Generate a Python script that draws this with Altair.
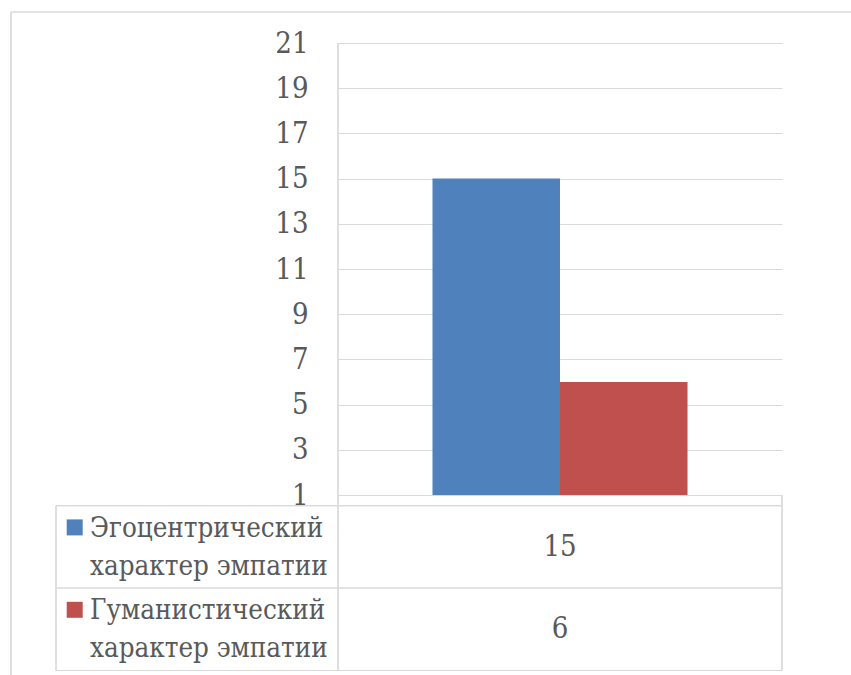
import altair as alt
import pandas as pd

# ---- data ----
series = ["Эгоцентрический характер эмпатии", "Гуманистический характер эмпатии"]
row_labels = ["Эгоцентрический\nхарактер эмпатии", "Гуманистический\nхарактер эмпатии"]
values = [15, 6]
rows = [0, 1]
colors = ["#4f81bd", "#c0504d"]
y_ticks = [1, 3, 5, 7, 9, 11, 13, 15, 17, 19, 21]

df = pd.DataFrame({"series": series, "label": row_labels, "value": values, "row": rows})

W, H = 444, 452
FONT = "DejaVu Serif Condensed, DejaVu Serif"
TXT = "#595959"
GRID = "#d9d9d9"

base = alt.Chart(df)

color = alt.Color("series:N", scale=alt.Scale(domain=series, range=colors), legend=None)

bars = base.mark_bar().encode(
    x=alt.X("series:N", sort=series,
            scale=alt.Scale(domain=series, paddingInner=0, paddingOuter=0.741),
            axis=None),
    y=alt.Y("value:Q", scale=alt.Scale(domain=[1, 21], nice=False, zero=False),
            axis=alt.Axis(values=y_ticks, title=None, ticks=False, domain=False,
                          grid=True, gridColor=GRID, gridWidth=1,
                          labelFont=FONT, labelFontSize=29, labelColor=TXT,
                          labelPadding=30)),
    y2=alt.datum(1),
    color=color,
)

row_scale = alt.Scale(domain=rows, range=[462.7, 627.5], paddingInner=0, paddingOuter=0)
row_y = alt.Y("row:O", scale=row_scale, axis=None)

value_text = base.mark_text(font=FONT, fontSize=29, color=TXT, align="center",
                            baseline="middle").encode(
    x=alt.value(W / 2), y=row_y, text=alt.Text("value:Q"))

label_text = base.mark_text(font=FONT, fontSize=27.5, color=TXT, align="left",
                            baseline="middle", lineBreak="\n", lineHeight=38,
                            dy=-18).encode(
    x=alt.value(-248), y=row_y, text="label:N")

keys = base.mark_square(size=256, opacity=1, yOffset=-19.5).encode(
    x=alt.value(-263.3), y=row_y, color=color)


def hrule(x1, x2, y):
    return alt.Chart(df).mark_rule(color=GRID, strokeWidth=1.2).encode(
        x=alt.value(x1), x2=alt.value(x2), y=alt.value(y))


def vrule(x, y1, y2):
    return alt.Chart(df).mark_rule(color=GRID, strokeWidth=1.2).encode(
        x=alt.value(x), y=alt.value(y1), y2=alt.value(y2))


lines = [
    hrule(-282, W, 462.7),
    hrule(-282, W, 545),
    hrule(-282, W, 627.5),
    vrule(-282, 462.7, 627.5),
    vrule(0, 0, 627.5),
    vrule(W, H, 627.5),
    hrule(-327, 600, -31),
    vrule(-327, -31, 700),
]

chart = alt.layer(bars, *lines, keys, label_text, value_text).resolve_scale(
    y="independent"
).properties(
    width=W, height=H,
    padding={"left": 338, "top": 43, "right": 69, "bottom": 180},
    autosize=alt.AutoSizeParams(type="none"),
    background="white",
).configure_view(stroke=None)

chart.save("out.html", embed_options={"renderer": "svg", "actions": False})
